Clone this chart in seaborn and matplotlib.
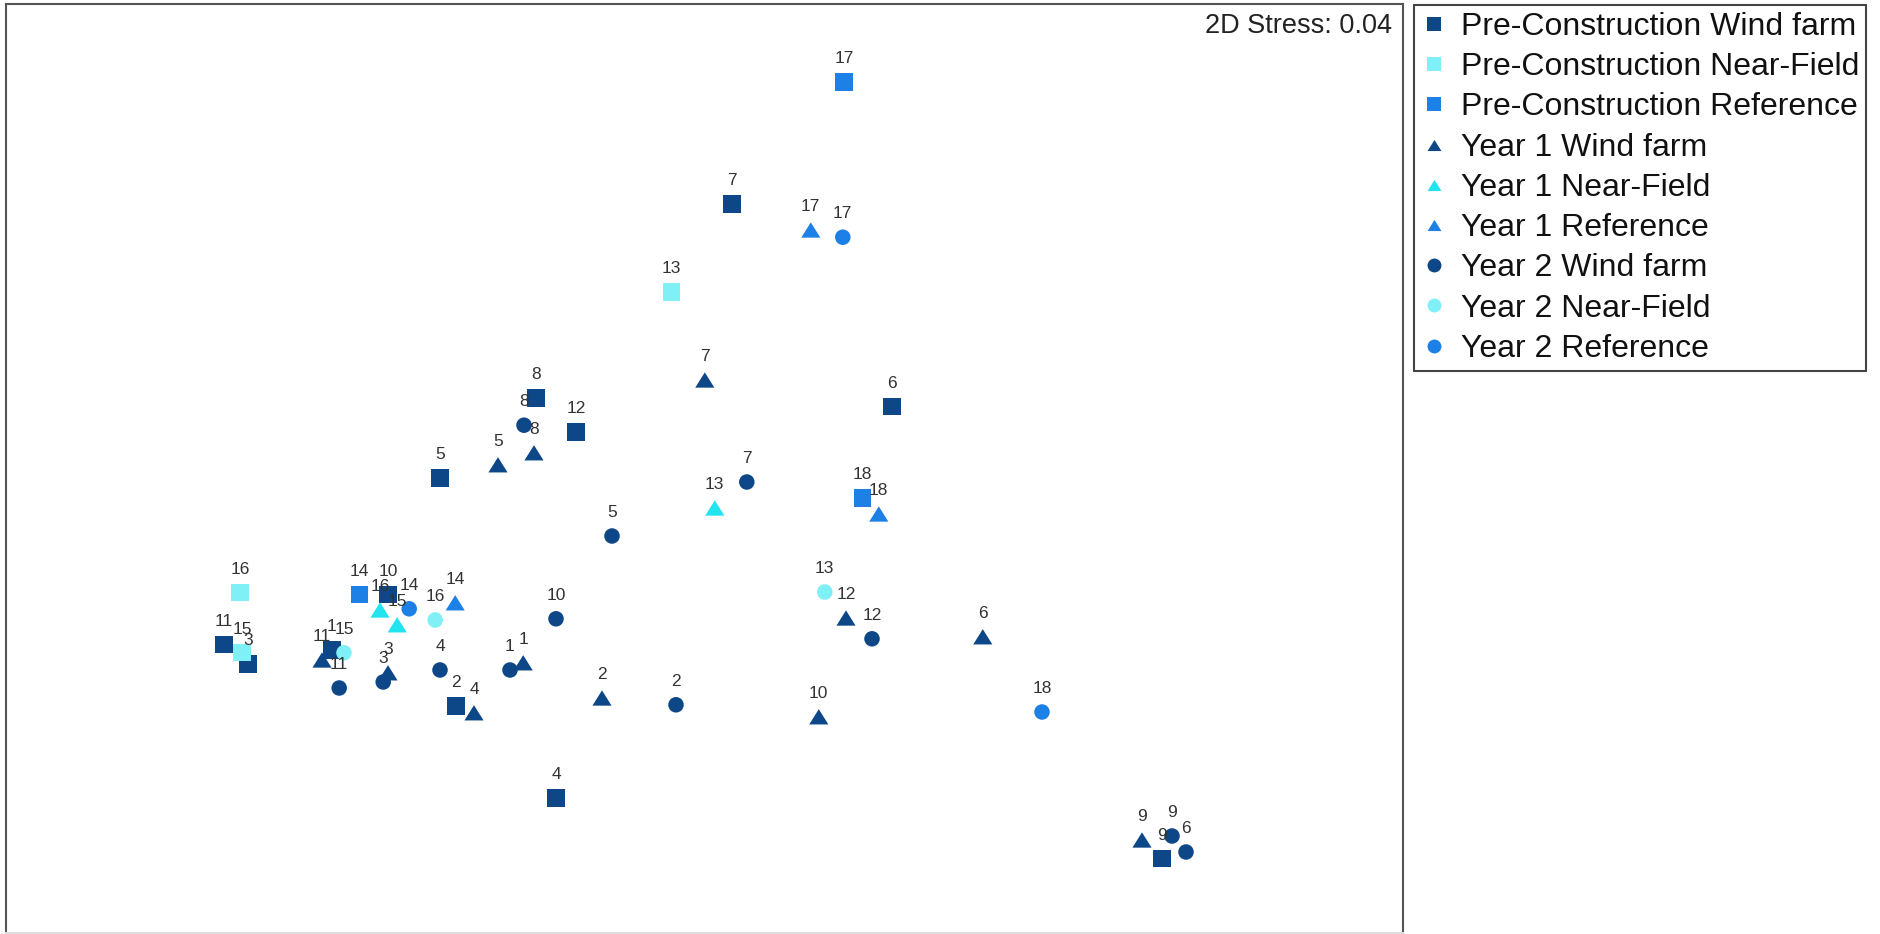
import numpy as np
import pandas as pd
import matplotlib
matplotlib.use("Agg")
import matplotlib.pyplot as plt
import seaborn as sns

# nMDS ordination scores per survey period and site type
wf_sites = [1, 2, 3, 4, 5, 6, 7, 8, 9, 10, 11, 12]
nf_sites = [13, 15, 16]
ref_sites = [14, 17, 18]

pre_wf_x = [-0.92, -0.61, -1.13, -0.36, -0.65, 0.48, 0.08, -0.41, 1.155, -0.78, -1.19, -0.31]
pre_wf_y = [-0.50, -0.64, -0.535, -0.87, -0.07, 0.108, 0.615, 0.13, -1.022, -0.362, -0.487, 0.045]
pre_nf_x = [-0.072, -1.145, -1.15]
pre_nf_y = [0.395, -0.507, -0.357]
pre_ref_x = [-0.852, 0.36, 0.407]
pre_ref_y = [-0.362, 0.92, -0.12]

y1_wf_x = [-0.442, -0.245, -0.78, -0.565, -0.505, 0.707, 0.012, -0.415, 1.105, 0.297, -0.945, 0.365]
y1_wf_y = [-0.532, -0.62, -0.557, -0.657, -0.037, -0.467, 0.175, -0.007, -0.975, -0.667, -0.525, -0.42]
y1_nf_x = [0.037, -0.757, -0.80]
y1_nf_y = [-0.145, -0.437, -0.40]
y1_ref_x = [-0.612, 0.277, 0.447]
y1_ref_y = [-0.382, 0.55, -0.16]

y2_wf_x = [-0.475, -0.06, -0.792, -0.65, -0.22, 1.215, 0.117, -0.44, 1.18, -0.36, -0.902, 0.43]
y2_wf_y = [-0.55, -0.637, -0.58, -0.55, -0.215, -1.005, -0.08, 0.062, -0.965, -0.422, -0.595, -0.472]
y2_nf_x = [0.312, -0.89, -0.662]
y2_nf_y = [-0.355, -0.507, -0.425]
y2_ref_x = [-0.727, 0.357, 0.855]
y2_ref_y = [-0.397, 0.532, -0.655]

stress = 0.04

groups = [
    ("Pre-Construction Wind farm", wf_sites, pre_wf_x, pre_wf_y),
    ("Pre-Construction Near-Field", nf_sites, pre_nf_x, pre_nf_y),
    ("Pre-Construction Reference", ref_sites, pre_ref_x, pre_ref_y),
    ("Year 1 Wind farm", wf_sites, y1_wf_x, y1_wf_y),
    ("Year 1 Near-Field", nf_sites, y1_nf_x, y1_nf_y),
    ("Year 1 Reference", ref_sites, y1_ref_x, y1_ref_y),
    ("Year 2 Wind farm", wf_sites, y2_wf_x, y2_wf_y),
    ("Year 2 Near-Field", nf_sites, y2_nf_x, y2_nf_y),
    ("Year 2 Reference", ref_sites, y2_ref_x, y2_ref_y),
]

rows = []
for name, sites, xs, ys in groups:
    for s, x, y in zip(sites, xs, ys):
        rows.append({"Group": name, "Site": s, "MDS1": x, "MDS2": y})
df = pd.DataFrame(rows)
order = [g[0] for g in groups]

navy = "#0D4787"
pale = "#80F0F7"
cyan = "#22E4EE"
blue = "#1C80E6"
palette = dict(zip(order, [navy, pale, blue, navy, cyan, blue, navy, pale, blue]))

tri = [(-1.0, -0.8), (1.0, -0.8), (0.0, 0.8), (-1.0, -0.8)]
markers = dict(zip(order, ["s", "s", "s", tri, tri, tri, "o", "o", "o"]))
sizes = dict(zip(order, [150, 150, 150, 190, 190, 190, 125, 125, 125]))

sns.set_theme(style="white")
plt.rcParams["font.family"] = ["Liberation Sans", "DejaVu Sans"]

fig = plt.figure(figsize=(18.81, 9.34), dpi=100)
W, H = 1881, 934
ax = fig.add_axes([6 / W, 1 / H, (1403 - 6) / W, (933 - 4) / H])

sns.scatterplot(data=df, x="MDS1", y="MDS2", hue="Group", style="Group",
                size="Group", hue_order=order, style_order=order, size_order=order,
                palette=palette, markers=markers, sizes=sizes,
                linewidth=0, edgecolor="none", ax=ax, legend=True, zorder=3)

for _, r in df.iterrows():
    ax.annotate(str(r["Site"]), (r["MDS1"], r["MDS2"]), xytext=(0, 17),
                textcoords="offset points", ha="center", va="center",
                fontsize=12.5, color="#333333", zorder=4)

ax.set_xlim(-1.735, 1.7575)
ax.set_ylim(-1.2075, 1.115)
ax.set_xticks([])
ax.set_yticks([])
ax.set_xlabel("")
ax.set_ylabel("")
for sp in ax.spines.values():
    sp.set_color("#555555")
    sp.set_linewidth(1.5)
ax.spines["bottom"].set_color("#dddddd")

ax.annotate(f"2D Stress: {stress:.2f}", xy=(1, 1), xycoords="axes fraction",
            xytext=(-8, -16), textcoords="offset points", ha="right", va="center",
            fontsize=19.5, color="#222222")

handles, labels = ax.get_legend_handles_labels()
ax.get_legend().remove()
for h in handles:
    h.set_markersize(10)
leg = fig.legend(handles, labels, loc="upper left",
                 bbox_to_anchor=(1414 / W, 1 - 5 / H), fontsize=23,
                 frameon=True, fancybox=False, framealpha=1, edgecolor="#444444",
                 handlelength=0.8, handletextpad=0.45, labelspacing=0.32,
                 borderpad=0.22, borderaxespad=0)
leg.get_frame().set_linewidth(1.5)
for t in leg.get_texts():
    t.set_color("#111111")

fig.savefig("out.png", dpi=100, facecolor="white")
